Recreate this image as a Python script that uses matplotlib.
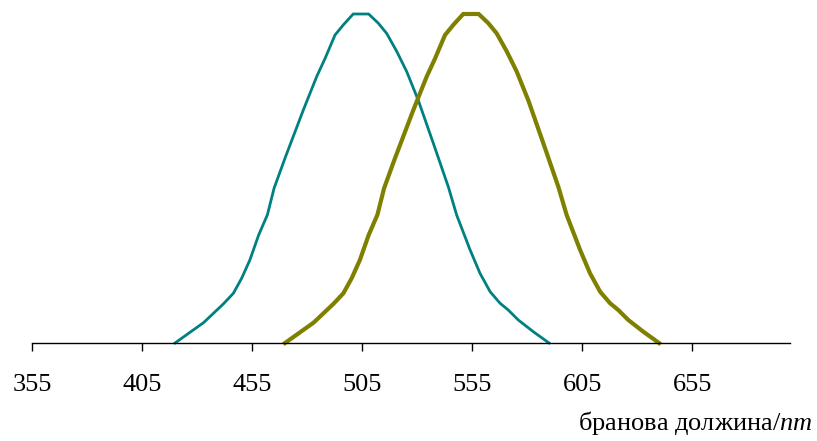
import matplotlib
matplotlib.use("Agg")
import matplotlib.pyplot as plt

plt.rcParams["font.family"] = ["Liberation Serif", "DejaVu Serif"]
plt.rcParams["mathtext.fontset"] = "custom"
plt.rcParams["mathtext.rm"] = "Liberation Serif"
plt.rcParams["mathtext.it"] = "Liberation Serif:italic"

# Scotopic (rod) relative sensitivity
scotopic_nm = [420, 433, 442, 446.5, 450.3, 454, 458, 462, 465, 470, 478.3,
               484.4, 488.2, 492.7, 496.5, 501, 508, 512.4, 516.2, 520.8,
               525.3, 530.6, 537.4, 544.2, 548, 554.1, 558.6, 563.2, 567.7,
               571.5, 576, 582.9, 590]
scotopic_v = [0.0, 0.062, 0.119, 0.151, 0.197, 0.252, 0.328, 0.39, 0.47,
              0.562, 0.708, 0.81, 0.865, 0.936, 0.967, 1.0, 1.0, 0.972,
              0.941, 0.886, 0.825, 0.737, 0.607, 0.475, 0.389, 0.283, 0.212,
              0.156, 0.121, 0.1, 0.07, 0.034, 0.0]

# Photopic (cone) relative sensitivity
photopic_nm = [470, 483, 492, 496.5, 500.3, 504, 508, 512, 515, 520, 528.3,
               534.4, 538.2, 542.7, 546.5, 551, 558, 562.4, 566.2, 570.8,
               575.3, 580.6, 587.4, 594.2, 598, 604.1, 608.6, 613.2, 617.7,
               621.5, 626, 632.9, 640]
photopic_v = [0.0, 0.062, 0.119, 0.151, 0.197, 0.252, 0.328, 0.39, 0.47,
              0.562, 0.708, 0.81, 0.865, 0.936, 0.967, 1.0, 1.0, 0.972,
              0.941, 0.886, 0.825, 0.737, 0.607, 0.475, 0.389, 0.283, 0.212,
              0.156, 0.121, 0.1, 0.07, 0.034, 0.0]

tick_values = [355, 405, 455, 505, 555, 605, 655]
x_label = "бранова должина/$\\mathit{nm}$"

W, H = 817, 441
fig = plt.figure(figsize=(W / 100, H / 100), dpi=100)
ax = fig.add_axes([32 / W, (H - 343) / H, 758 / W, 329 / H])

ax.plot(scotopic_nm, scotopic_v, color="#008080", lw=2.0,
        solid_joinstyle="miter", clip_on=False)
ax.plot(photopic_nm, photopic_v, color="#808000", lw=3.0,
        solid_joinstyle="miter", clip_on=False)

ax.set_xlim(355, 699.5)
ax.set_ylim(0, 1.0)
ax.set_xticks(tick_values)
ax.set_xticklabels([str(t) for t in tick_values])
ax.tick_params(axis="x", direction="out", length=6, width=1.0,
               labelsize=19, pad=16.5, color="black")
ax.set_yticks([])
for side in ("top", "right", "left"):
    ax.spines[side].set_visible(False)
ax.spines["bottom"].set_linewidth(1.0)

fig.text(813 / W, (H - 430) / H, x_label, ha="right", va="baseline",
         fontsize=19)

fig.savefig("out.png", dpi=100)
